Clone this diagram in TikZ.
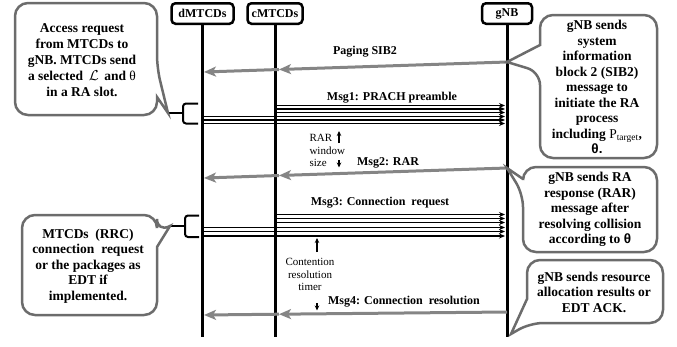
\documentclass[tikz,border=0pt]{standalone}
\usepackage{fontspec}
\setmainfont{Liberation Serif}
\newfontfamily\symfont{Liberation Sans}
\usetikzlibrary{arrows.meta}
\definecolor{arrowgray}{RGB}{133,133,133}
\definecolor{boxgray}{RGB}{108,108,108}
\tikzset{
  hdr/.style={draw, line width=2.5pt, rounded corners=4pt, minimum height=20.5pt, inner sep=2pt,
    font=\fontsize{12}{14}\selectfont\bfseries},
  lifeline/.style={line width=3pt},
  reply/.style={draw=arrowgray, line width=3pt, -{Stealth[length=12pt,width=10pt,inset=3pt]}},
  req/.style={line width=1.2pt, -{Stealth[length=6pt,width=5pt]}, shorten >=2pt},
  notebox/.style={draw=boxgray, line width=2.5pt, fill=white, rounded corners=13pt},
  notetext/.style={align=center, font=\fontsize{13.5}{15.5}\selectfont\bfseries},
  msglabel/.style={font=\fontsize{12}{14}\selectfont\bfseries},
  timertext/.style={align=center, font=\fontsize{11}{12.5}\selectfont},
  mbrace/.style={line width=2pt, rounded corners=3pt},
  timer/.style={line width=1.2pt, -{Stealth[length=5pt,width=4.5pt]}}
}
\begin{document}
\begin{tikzpicture}[x=1pt, y=-1pt]
    \useasboundingbox (0,0) rectangle (677,346);

    % Entities and lifelines
    \node[hdr, minimum width=62pt] (dm) at (202.5,13.5) {dMTCDs};
    \node[hdr, minimum width=55pt] (cm) at (275,13.5) {cMTCDs};
    \node[hdr, minimum width=50pt] (gnb) at (507,13.5) {gNB};
    \coordinate (bot) at (0,337);
    \draw[lifeline] (dm.south) -- (dm.south |- bot);
    \draw[lifeline] (cm.south) -- (cm.south |- bot);
    \draw[lifeline] (gnb.south) -- (gnb.south |- bot);

    % Paging SIB2
    \coordinate (sibG) at (507,62);
    \coordinate (sibC) at (279,69.5);
    \coordinate (sibD) at (204,72);
    \draw[reply] (sibG) -- (sibC);
    \draw[reply] (sibC) -- (sibD);
    \node[msglabel] (sib) at (365,52) {Paging SIB2};

    % Msg1
    \foreach \yy in {105.5,109,112.5}
        \draw[req] (cm |- 0,\yy) -- (gnb |- 0,\yy);
    \foreach \yy in {116.5,120,123.5}
        \draw[req] (dm |- 0,\yy) -- (gnb |- 0,\yy);
    \node[msglabel] (msg1) at (392,98) {Msg1: PRACH preamble};

    % RAR window
    \node[timertext, align=left, anchor=west] (rarwin) at (306,150.5) {RAR\\window\\size};
    \draw[timer] (339,143) -- (339,131);
    \draw[timer] (339,160) -- (339,167.5);

    % Msg2
    \coordinate (rarG) at (507,168);
    \coordinate (rarC) at (279,175.5);
    \coordinate (rarD) at (204,178);
    \draw[reply] (rarG) -- (rarC);
    \draw[reply] (rarC) -- (rarD);
    \node[msglabel] (msg2) at (388,163) {Msg2: RAR};

    % Msg3
    \foreach \yy in {214.5,218.5,222.5}
        \draw[req] (cm |- 0,\yy) -- (gnb |- 0,\yy);
    \foreach \yy in {227.5,231.5,236}
        \draw[req] (dm |- 0,\yy) -- (gnb |- 0,\yy);
    \node[msglabel] (msg3) at (380,203) {Msg3: Connection \ request};

    % Contention resolution timer
    \node[timertext] (crt) at (310,274.5) {Contention\\resolution\\timer};
    \draw[timer] (317,252) -- (317,238);
    \draw[timer] (317,303) -- (317,310.5);

    % Msg4
    \coordinate (conG) at (507,312);
    \coordinate (conC) at (279,314.2);
    \coordinate (conD) at (204,315);
    \draw[reply] (conG) -- (conC);
    \draw[reply] (conC) -- (conD);
    \node[msglabel] (msg4) at (404,302) {Msg4: Connection \ resolution};

    % Braces
    \draw[mbrace] (198,103.5) -- (183,103.5) -- (183,123.5) -- (198,123.5);
    \draw[mbrace] (168,113) -- (183,113);
    \draw[mbrace] (199,215.5) -- (185,215.5) -- (185,237) -- (199,237);
    \draw[mbrace] (170,226) -- (185,226);

    % Callouts
    \draw[notebox] (15,3) -- (157,3) -- (157,68) [sharp corners] -- (168,113) -- (157,97)
        [rounded corners=13pt] -- (157,115) -- (15,115) -- cycle;
    \node[notetext, font=\fontsize{13.5}{16}\selectfont\bfseries] (access) at (82,60) {Access request\\from MTCDs to\\gNB. MTCDs send\\a selected \,{\mdseries\smash{$\mathcal{L}$}}\, and {\mdseries θ}\\in a RA slot.};

    \draw[notebox] (22,215) -- (157,215) -- (157,232) [sharp corners] -- (170,226) -- (157,247)
        [rounded corners=13pt] -- (157,315) -- (22,315) -- cycle;
    \node[notetext] (rrc) at (88,266) {MTCDs \ (RRC)\\connection \ request\\or the packages as\\EDT if\\implemented.};

    \draw[notebox] (540,15) -- (657,15) -- (657,158) -- (540,158) -- (540,72) [sharp corners]
        -- (507,62) -- (540,45) [rounded corners=13pt] -- cycle;
    \node[notetext] (sibnote) at (597,87) {gNB sends\\system\\information\\block 2 (SIB2)\\message to\\initiate the RA\\process\\including {\mdseries P}\textsubscript{\mdseries target},\\{\symfont θ.}};

    \draw[notebox] (523,167) -- (657,167) -- (657,252) -- (523,252) -- (523,194) [sharp corners]
        -- (507,168) -- (523,179) [rounded corners=13pt] -- cycle;
    \node[notetext] (rarnote) at (590,209.5) {gNB sends RA\\response (RAR)\\message after\\resolving collision\\according to {\symfont θ}};

    \draw[notebox] (527,260) -- (663,260) -- (663,323) -- (530,323) [sharp corners] -- (511,334)
        -- (527,299) [rounded corners=13pt] -- cycle;
    \node[notetext] (resnote) at (594,292) {gNB sends resource\\allocation results or\\EDT ACK.};

\end{tikzpicture}
\end{document}
